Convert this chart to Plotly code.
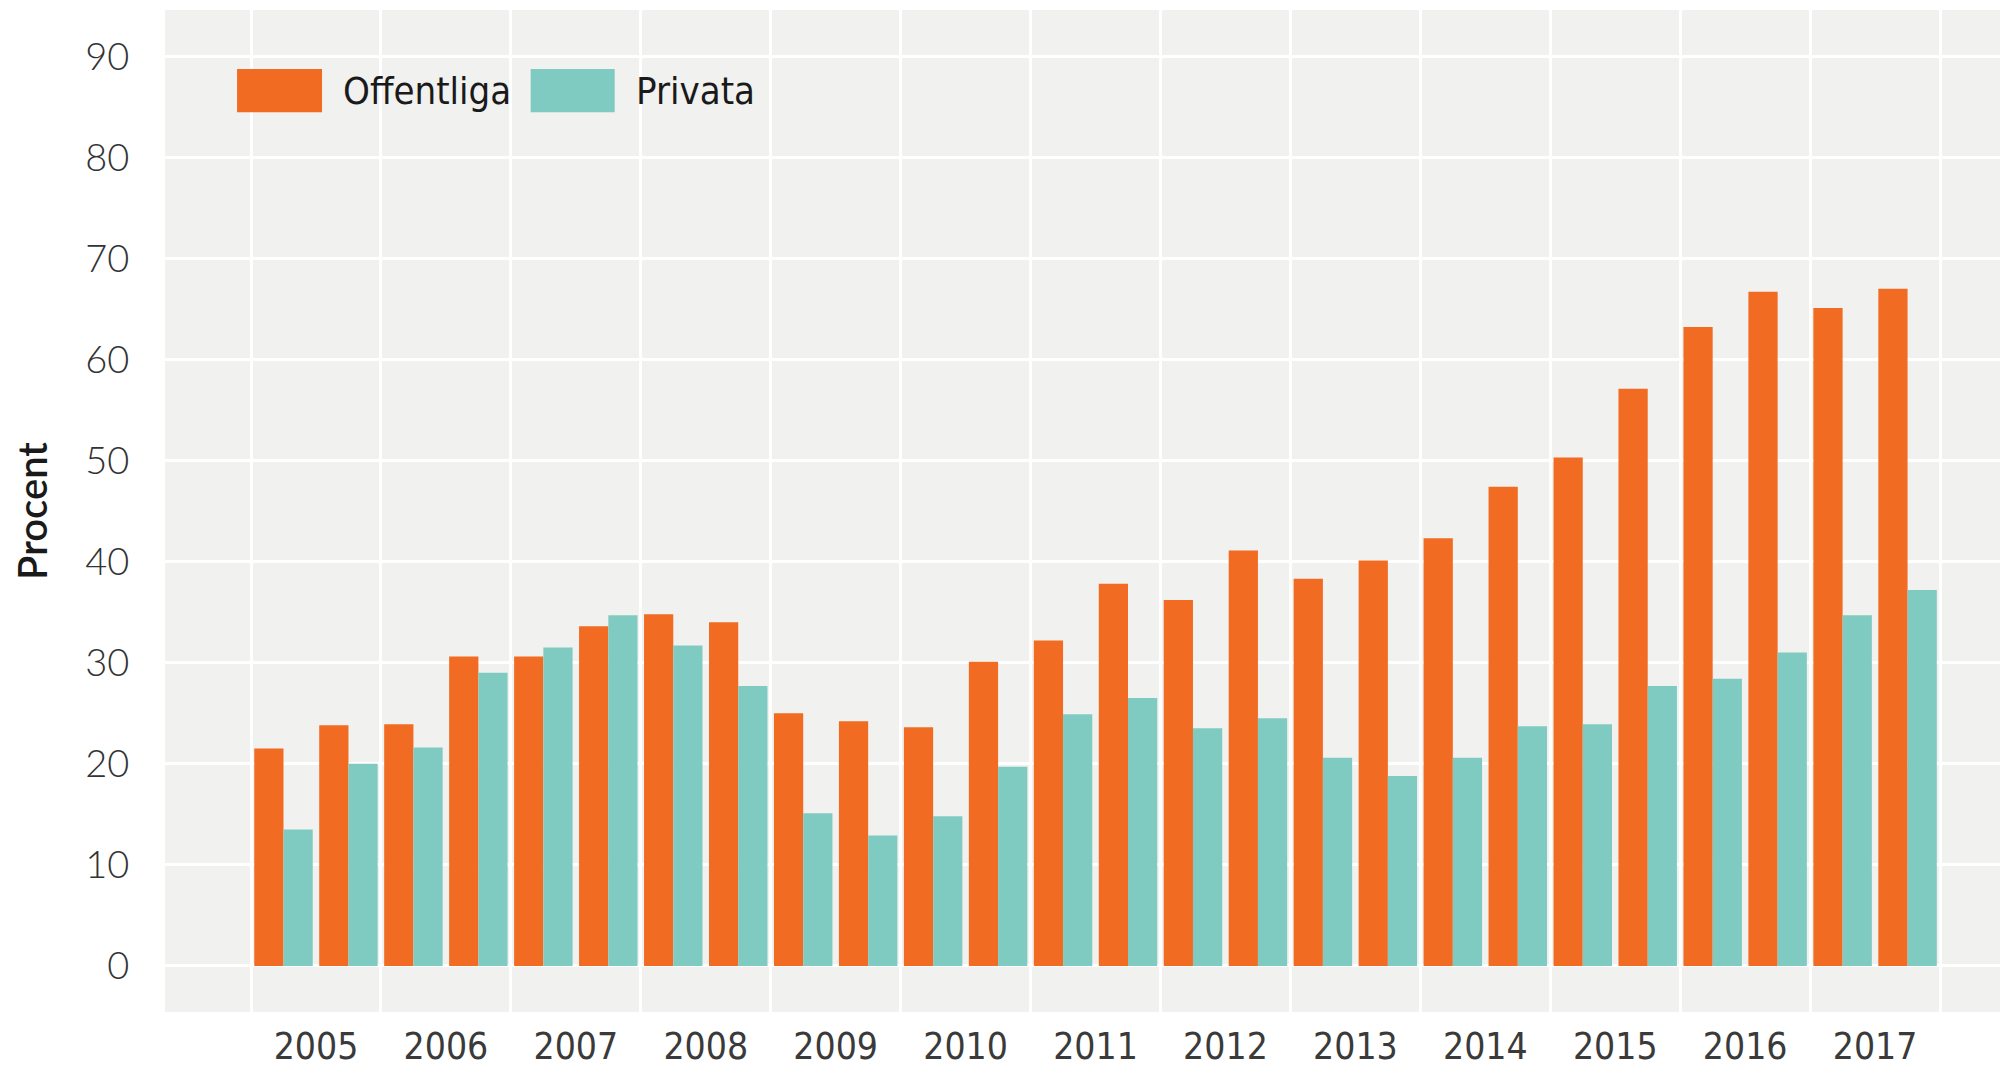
import plotly.graph_objects as go

# Halvårsperioder (mittpunkt i varje halvår)
perioder = [2005.25, 2005.75, 2006.25, 2006.75, 2007.25, 2007.75, 2008.25, 2008.75,
            2009.25, 2009.75, 2010.25, 2010.75, 2011.25, 2011.75, 2012.25, 2012.75,
            2013.25, 2013.75, 2014.25, 2014.75, 2015.25, 2015.75, 2016.25, 2016.75,
            2017.25, 2017.75]
offentliga = [21.5, 23.8, 23.9, 30.6, 30.6, 33.6, 34.8, 34.0, 25.0, 24.2, 23.6, 30.1, 32.2,
              37.8, 36.2, 41.1, 38.3, 40.1, 42.3, 47.4, 50.3, 57.1, 63.2, 66.7, 65.1, 67.0]
privata = [13.5, 20.0, 21.6, 29.0, 31.5, 34.7, 31.7, 27.7, 15.1, 12.9, 14.8, 19.7, 24.9,
           26.5, 23.5, 24.5, 20.6, 18.8, 20.6, 23.7, 23.9, 27.7, 28.4, 31.0, 34.7, 37.2]
ar = ["2005", "2006", "2007", "2008", "2009", "2010", "2011", "2012", "2013",
      "2014", "2015", "2016", "2017"]
ar_pos = [2005.5, 2006.5, 2007.5, 2008.5, 2009.5, 2010.5, 2011.5, 2012.5, 2013.5,
          2014.5, 2015.5, 2016.5, 2017.5]
ar_grans = [2005, 2006, 2007, 2008, 2009, 2010, 2011, 2012, 2013, 2014, 2015, 2016, 2017, 2018]
y_ticks = [0, 10, 20, 30, 40, 50, 60, 70, 80, 90]

ORANGE = "#F26B22"
TEAL = "#80CBC1"
PANEL = "#F1F1EF"
SMAL = "Liberation Sans Narrow, DejaVu Sans Condensed, sans-serif"

fig = go.Figure()
fig.add_trace(go.Bar(x=perioder, y=offentliga, name="Offentliga",
                     marker=dict(color=ORANGE, line=dict(width=0)), showlegend=False))
fig.add_trace(go.Bar(x=perioder, y=privata, name="Privata",
                     marker=dict(color=TEAL, line=dict(width=0)), showlegend=False))

# Egen legend med stora rutor
for x0, x1, farg, text, tx in [(0.0391, 0.0852, ORANGE, "Offentliga", 0.0955),
                               (0.1984, 0.2440, TEAL, "Privata", 0.2545)]:
    fig.add_shape(type="rect", xref="paper", yref="paper", x0=x0, x1=x1,
                  y0=0.898, y1=0.941, fillcolor=farg, line=dict(width=0), layer="above")
    fig.add_annotation(xref="paper", yref="paper", x=tx, y=0.9195, text=text,
                       showarrow=False, xanchor="left", yanchor="middle",
                       font=dict(family=SMAL, size=38, color="#1a1a1a"))

# sidans body-marginal (8 px) dras av från storlek och marginaler
fig.update_layout(
    width=2000, height=1066,
    barmode="group", bargap=0.1, bargroupgap=0,
    plot_bgcolor=PANEL, paper_bgcolor="white",
    margin=dict(l=157, r=0, t=2, b=62, autoexpand=False),
    font=dict(family="Lato", color="#333333"),
)
fig.update_xaxes(
    range=[2004.338, 2018.523], automargin=False,
    tickvals=ar_pos, ticktext=ar,
    showgrid=False, zeroline=False, showline=False,
    ticks="outside", ticklen=2, tickcolor="rgba(0,0,0,0)",
    tickfont=dict(family=SMAL, size=37, color="#3a3a3a"),
    minor=dict(tickvals=ar_grans, showgrid=True, gridcolor="white", gridwidth=2.5, ticklen=0),
)
fig.update_yaxes(
    range=[-4.56, 94.57], automargin=False,
    tickvals=y_ticks,
    showgrid=True, gridcolor="white", gridwidth=2.5,
    zeroline=False, showline=False,
    ticks="outside", ticklen=27, tickcolor="rgba(0,0,0,0)",
    tickfont=dict(family="Lato", size=38, color="#333333", weight=300),
    title=dict(text="Procent", standoff=30,
               font=dict(family="Lato", size=40, color="#1a1a1a", weight=600)),
)

fig.write_html("out.html")
